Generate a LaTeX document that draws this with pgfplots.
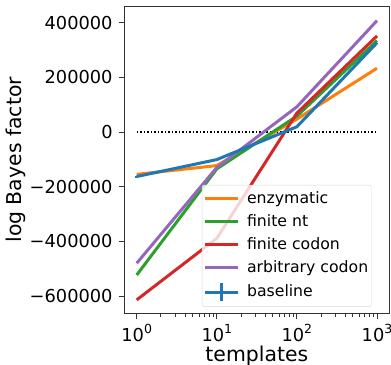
\documentclass[border=0pt]{standalone}
\usepackage{pgfplots}
\pgfplotsset{compat=1.18}
\usepackage{fontspec}
\setmainfont{DejaVu Sans}
\definecolor{tabblue}{HTML}{1F77B4}
\definecolor{taborange}{HTML}{FF7F0E}
\definecolor{tabgreen}{HTML}{2CA02C}
\definecolor{tabred}{HTML}{D62728}
\definecolor{tabpurple}{HTML}{9467BD}
\newcommand{\tp}[1]{10\raisebox{0.45em}{\fontsize{12.5}{13}\selectfont #1}}
\begin{document}
\fontsize{17.8}{21}\selectfont
\begin{tikzpicture}
\begin{axis}[
  scale only axis,
  width=264.3pt, height=306.3pt,
  xmode=log,
  xmin=0.708, xmax=1413,
  ymin=-662000, ymax=458000,
  axis line style={black!80, line width=0.8pt},
  tick align=outside,
  xtick pos=bottom, ytick pos=left,
  tick style={black!80, line width=0.8pt},
  major tick length=6pt,
  minor tick length=3.5pt,
  xtick={1,10,100,1000},
  xticklabels={\tp{0},\tp{1},\tp{2},\tp{3}},
  ytick={-600000,-400000,-200000,0,200000,400000},
  yticklabels={−600000,−400000,−200000,0,200000,400000},
  scaled y ticks=false,
  ticklabel style={font=\fontsize{17.8}{21}\selectfont},
  xticklabel style={yshift=1pt},
  xlabel={templates},
  ylabel={log Bayes factor},
  label style={font=\fontsize{20.4}{24}\selectfont},
  xlabel style={yshift=8pt},
  ylabel style={yshift=-8pt},
  every axis plot/.append style={line width=3pt},
  legend cell align=left,
  legend style={at={(0.292,0.418)}, anchor=north west,
    draw=black!15, rounded corners=2pt, fill=white, fill opacity=0.8, text opacity=1,
    font=\fontsize{15.7}{18.5}\selectfont, row sep=4.5pt, inner xsep=1pt, inner ysep=4pt,
    /tikz/every odd column/.style={column sep=6pt}},
  legend image code/.code={\draw[#1] (0pt,0pt) -- (33pt,0pt);},
]
\addplot[black, dash pattern=on 1.5pt off 2pt, line width=1.5pt, forget plot] coordinates {(1,0) (1000,0)};
\addplot[taborange] coordinates {(1,-155000) (10,-123000) (100,47000) (1000,233000)};
\addlegendentry{enzymatic}
\addplot[tabgreen] coordinates {(1,-523000) (10,-135000) (100,58000) (1000,334000)};
\addlegendentry{finite nt}
\addplot[tabred] coordinates {(1,-614000) (10,-389000) (100,69000) (1000,351000)};
\addlegendentry{finite codon}
\addplot[tabpurple] coordinates {(1,-480000) (10,-130000) (100,92000) (1000,407000)};
\addlegendentry{arbitrary codon}
\addplot[tabblue,
  legend image code/.code={\draw[tabblue, line width=3pt] (0pt,0pt) -- (33pt,0pt); \draw[tabblue, line width=3pt] (16.5pt,-9pt) -- (16.5pt,9pt);},
  error bars/.cd, y dir=both, y explicit, error bar style={line width=3pt}, error mark=none]
  coordinates {(1,-163000) +- (0,1000) (10,-101000) +- (0,1000) (100,19000) +- (0,1000) (1000,326000) +- (0,1000)};
\addlegendentry{baseline}
\end{axis}
\pgfresetboundingbox
\path (current axis.south west) ++(-124.7pt,-51.5pt) coordinate (bbA);
\path (current axis.north east) ++(2pt,6.7pt) coordinate (bbB);
\useasboundingbox (bbA) rectangle (bbB);
\end{tikzpicture}
\end{document}
